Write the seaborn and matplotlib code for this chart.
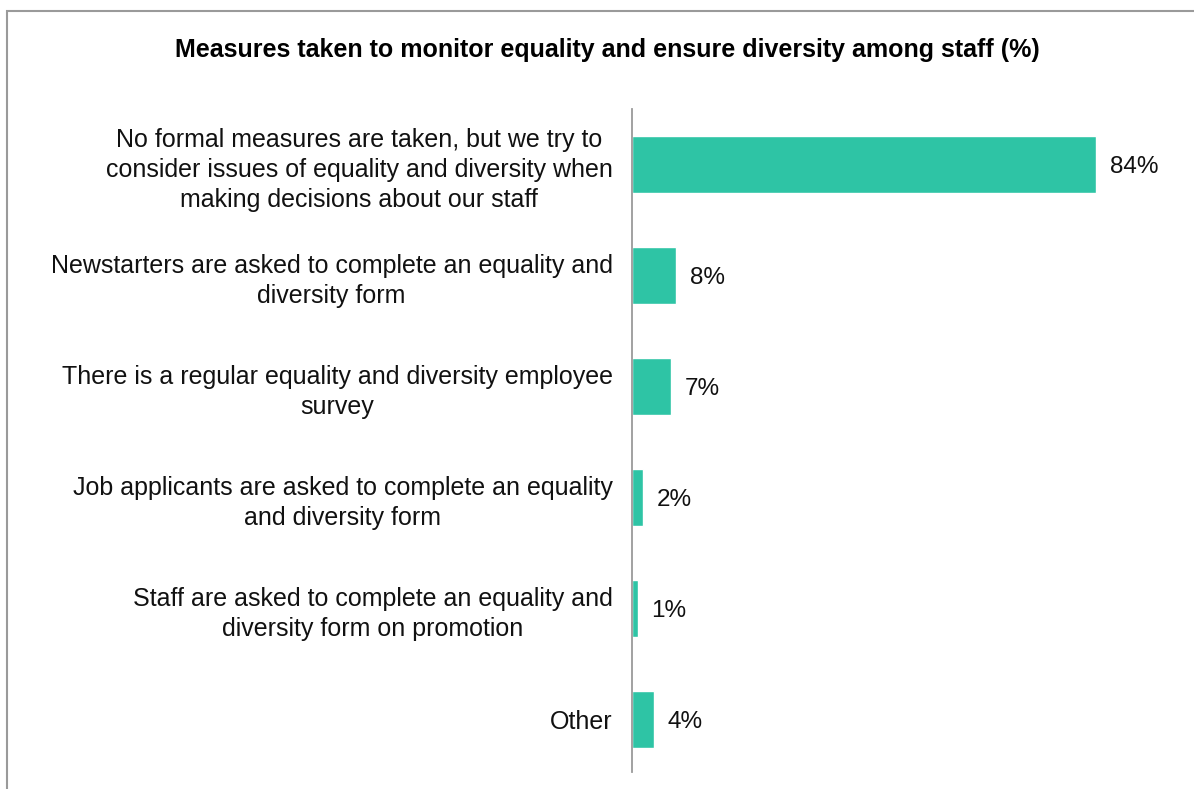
import matplotlib
matplotlib.use("Agg")
import matplotlib.pyplot as plt
import seaborn as sns
import pandas as pd
from matplotlib.patches import Rectangle

measures = [
    "No formal measures are taken, but we try to\nconsider issues of equality and diversity when\nmaking decisions about our staff",
    "Newstarters are asked to complete an equality and\ndiversity form",
    "There is a regular equality and diversity employee\nsurvey",
    "Job applicants are asked to complete an equality\nand diversity form",
    "Staff are asked to complete an equality and\ndiversity form on promotion",
    "Other",
]
percent = [84, 8, 7, 2, 1, 4]
value_labels = ["84%", "8%", "7%", "2%", "1%", "4%"]

df = pd.DataFrame({"measure": measures, "percent": percent})

sns.set_theme(style="white")
plt.rcParams["font.family"] = ["Liberation Sans", "DejaVu Sans"]

W, H = 1194, 789
fig = plt.figure(figsize=(W / 100, H / 100), dpi=100)
ax = fig.add_axes([632 / W, 1 - 775 / H, 552 / W, 666 / H])

sns.barplot(data=df, x="percent", y="measure", orient="h", color="#2EC4A5",
            width=0.52, saturation=1, ax=ax)

ax.set_xlim(0, 100)
ax.set_ylim(5.5, -0.5)
ax.set_xlabel("")
ax.set_ylabel("")
ax.set_xticks([])
for s in ["top", "right", "bottom"]:
    ax.spines[s].set_visible(False)
ax.spines["left"].set_color("#9a9a9a")
ax.spines["left"].set_linewidth(1.3)
ax.spines["left"].set_bounds(5.47, -0.5)
ax.tick_params(axis="y", length=0, pad=14)
for lbl in ax.get_yticklabels():
    lbl.set_fontsize(18)
    lbl.set_color("#111111")
    lbl.set_multialignment("center")
    lbl.set_linespacing(1.3)

for i, (v, t) in enumerate(zip(percent, value_labels)):
    ax.annotate(t, xy=(v, i), xytext=(10, 0), textcoords="offset points",
                va="center_baseline", ha="left", fontsize=17.5, color="#111111")

fig.text(607 / W, 1 - 50 / H,
         "Measures taken to monitor equality and ensure diversity among staff (%)",
         ha="center", va="center", fontsize=18, fontweight="bold", color="#000000")

# outer frame (open at the right and bottom edges)
fig.patches.append(Rectangle((7 / W, -0.05), 1.2, 1 - 11 / H + 0.05,
                             transform=fig.transFigure, fill=False,
                             edgecolor="#9a9a9a", linewidth=1.5))

fig.savefig("out.png", dpi=100, facecolor="white")
